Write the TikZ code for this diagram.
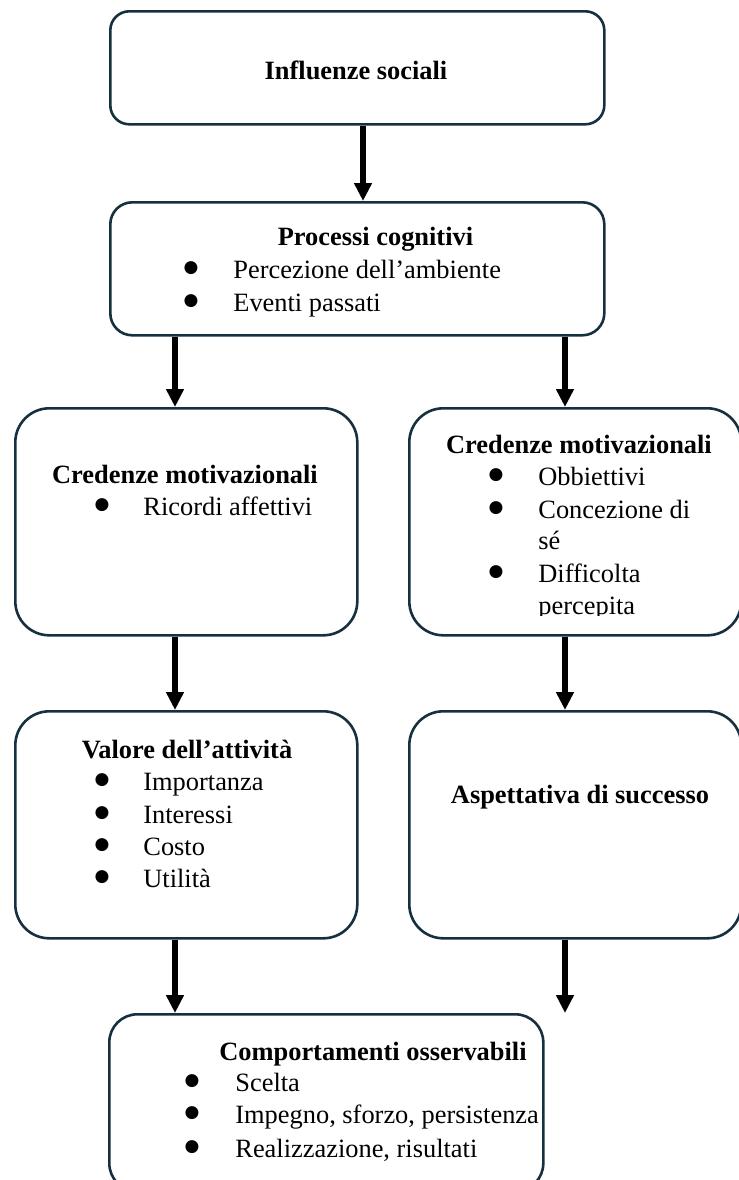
\documentclass[tikz,border=0pt]{standalone}
\usepackage{fontspec}
\setmainfont{Liberation Serif}
\newfontfamily\symfnt{DejaVu Sans}
\usetikzlibrary{arrows.meta}
\definecolor{boxline}{RGB}{22,48,64}
\tikzset{
  box/.style={draw=boxline, line width=1.3pt, fill=white, inner sep=0pt, anchor=north west},
  txt/.style={inner sep=0pt, font=\fontsize{13.2pt}{16pt}\selectfont},
  ttl/.style={txt, anchor=base, font=\fontsize{13.2pt}{16pt}\selectfont\bfseries},
  itm/.style={txt, anchor=base west},
  bul/.style={inner sep=0pt, anchor=base, font=\symfnt\fontsize{8.5pt}{9pt}\selectfont, yshift=2.6pt},
  arr/.style={line width=3pt, -{Triangle[length=9pt,width=8.5pt]}, black}
}
\begin{document}
\begin{tikzpicture}[x=0.5pt,y=-0.5pt]
\useasboundingbox (0,0) rectangle (739,1180);
\clip (0,0) rectangle (739,1180);
\coordinate (cM) at (363,0);
\coordinate (cL) at (175,0);
\coordinate (cR) at (565,0);
% boxes
\node[box, rounded corners=9.5pt, minimum width=247pt, minimum height=56.5pt] (b1) at (109,10) {};
\node[box, rounded corners=11pt, minimum width=247pt, minimum height=66.5pt] (b2) at (109,201) {};
\node[box, rounded corners=17pt, minimum width=171pt, minimum height=113.5pt] (b3l) at (14,407) {};
\node[box, rounded corners=17pt, minimum width=166pt, minimum height=113.5pt] (b3r) at (408,407) {};
\node[box, rounded corners=17pt, minimum width=171pt, minimum height=113.5pt] (b4l) at (14,710) {};
\node[box, rounded corners=17pt, minimum width=166pt, minimum height=113.5pt] (b4r) at (408,710) {};
\node[box, rounded corners=14pt, minimum width=217pt, minimum height=88.5pt] (b5) at (108,1013) {};
% arrows
\draw[arr] (b1.south -| cM) -- (b2.north -| cM);
\draw[arr] (b2.south -| cL) -- (b3l.north -| cL);
\draw[arr] (b2.south -| cR) -- (b3r.north -| cR);
\draw[arr] (b3l.south -| cL) -- (b4l.north -| cL);
\draw[arr] (b3r.south -| cR) -- (b4r.north -| cR);
\draw[arr] (b4l.south -| cL) -- (b5.north -| cL);
\draw[arr] (b4r.south -| cR) -- (b5.north -| cR);
% box 1
\node[ttl] (t1) at (356,79) {Influenze sociali};
% box 2
\node[ttl] (t2) at (375.5,245) {Processi cognitivi};
\node[bul] (t2b1) at (191,278) {●};
\node[itm] (t2i1) at (233,278) {Percezione dell’ambiente};
\node[bul] (t2b2) at (191,311) {●};
\node[itm] (t2i2) at (233,311) {Eventi passati};
% box 3 left
\node[ttl] (t3l) at (185,483) {Credenze motivazionali};
\node[bul] (t3lb1) at (102,515) {●};
\node[itm] (t3li1) at (143,515) {Ricordi affettivi};
% box 3 right
\node[ttl] (t3r) at (579,453) {Credenze motivazionali};
\node[bul] (t3rb1) at (496,485) {●};
\node[itm] (t3ri1) at (538,485) {Obbiettivi};
\node[bul] (t3rb2) at (496,518) {●};
\node[itm] (t3ri2) at (538,518) {Concezione di};
\node[itm] (t3ri2b) at (538,549) {sé};
\node[bul] (t3rb3) at (496,582) {●};
\node[itm] (t3ri3) at (538,582) {Difficolta};
\begin{scope}
\clip (400,590) rectangle (739,615);
\node[itm] (t3ri3b) at (538,614) {percepita};
\end{scope}
% box 4 left
\node[ttl] (t4l) at (187,758) {Valore dell’attività};
\node[bul] (t4lb1) at (102,790) {●};
\node[itm] (t4li1) at (143,790) {Importanza};
\node[bul] (t4lb2) at (102,823) {●};
\node[itm] (t4li2) at (143,823) {Interessi};
\node[bul] (t4lb3) at (102,855) {●};
\node[itm] (t4li3) at (143,855) {Costo};
\node[bul] (t4lb4) at (102,887) {●};
\node[itm] (t4li4) at (143,887) {Utilità};
% box 4 right
\node[ttl] (t4r) at (580,803) {Aspettativa di successo};
% box 5
\node[ttl] (t5) at (373,1060) {Comportamenti osservabili};
\node[bul] (t5b1) at (192,1091) {●};
\node[itm] (t5i1) at (235,1091) {Scelta};
\node[bul] (t5b2) at (192,1123) {●};
\node[itm] (t5i2) at (235,1123) {Impegno, sforzo, persistenza};
\node[bul] (t5b3) at (192,1157) {●};
\node[itm] (t5i3) at (235,1157) {Realizzazione, risultati};
\end{tikzpicture}
\end{document}
